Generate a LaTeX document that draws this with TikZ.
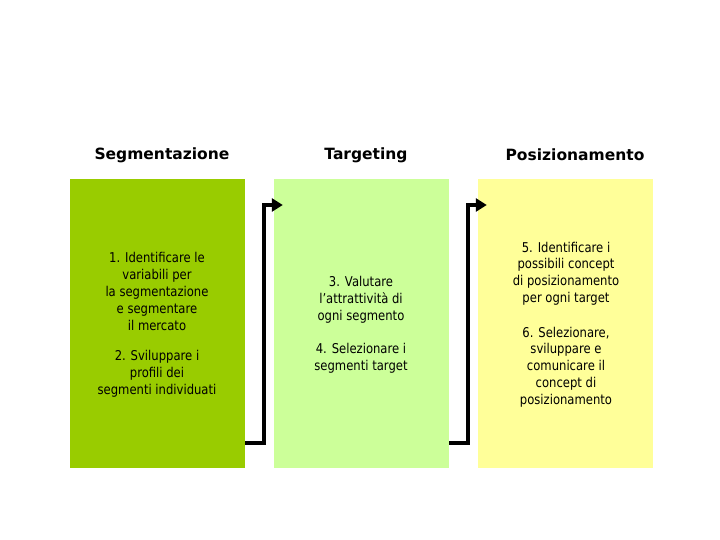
\documentclass[tikz,border=0pt]{standalone}
\usepackage{fontspec}
\setmainfont{DejaVu Sans}[FakeStretch=0.86]
\newfontfamily\hfont{DejaVu Sans}
\usetikzlibrary{arrows.meta}
\definecolor{cA}{HTML}{99CC00}
\definecolor{cB}{HTML}{CCFF99}
\definecolor{cC}{HTML}{FFFF99}
\begin{document}
\begin{tikzpicture}[x=1bp,y=-1bp,
  panel/.style={draw=none,minimum width=175bp,minimum height=289bp,inner sep=0pt},
  head/.style={font=\hfont\fontsize{15.5bp}{18bp}\selectfont\bfseries},
  body/.style={align=center,font=\fontsize{13.5bp}{16.8bp}\selectfont,inner sep=0pt},
  conn/.style={line width=3.8bp,-{Triangle[length=11bp,width=13bp]}}]
\useasboundingbox (0,0) rectangle (720,540);
\fill[white] (0,0) rectangle (720,540);
\node[panel,fill=cA] (b1) at (157.5,323.5) {};
\node[panel,fill=cB] (b2) at (361.5,323.5) {};
\node[panel,fill=cC] (b3) at (565.5,323.5) {};
\node[head] (h1) at (162,155) {Segmentazione};
\node[head] (h2) at (366,155) {Targeting};
\node[head] (h3) at (575,155) {Posizionamento};
\node[body] (t1) at (157,291.5) {1. Identificare le\\variabili per\\la segmentazione\\e segmentare\\il mercato};
\node[body] (t2) at (157,374) {2. Sviluppare i\\profili dei\\segmenti individuati};
\node[body] (t3) at (361,300) {3. Valutare\\l’attrattività di\\ogni segmento};
\node[body] (t4) at (361,358.5) {4. Selezionare i\\segmenti target};
\node[body] (t5) at (566,273.5) {5. Identificare i\\possibili concept\\di posizionamento\\per ogni target};
\node[body] (t6) at (566,367) {6. Selezionare,\\sviluppare e\\comunicare il\\concept di\\posizionamento};
\draw[conn] ([yshift=-119.5bp]b1.east) -- ++(18.5,0) |- ([xshift=9bp,yshift=118.5bp]b2.west);
\draw[conn] ([yshift=-119.5bp]b2.east) -- ++(18.5,0) |- ([xshift=9bp,yshift=118.5bp]b3.west);
\end{tikzpicture}
\end{document}
